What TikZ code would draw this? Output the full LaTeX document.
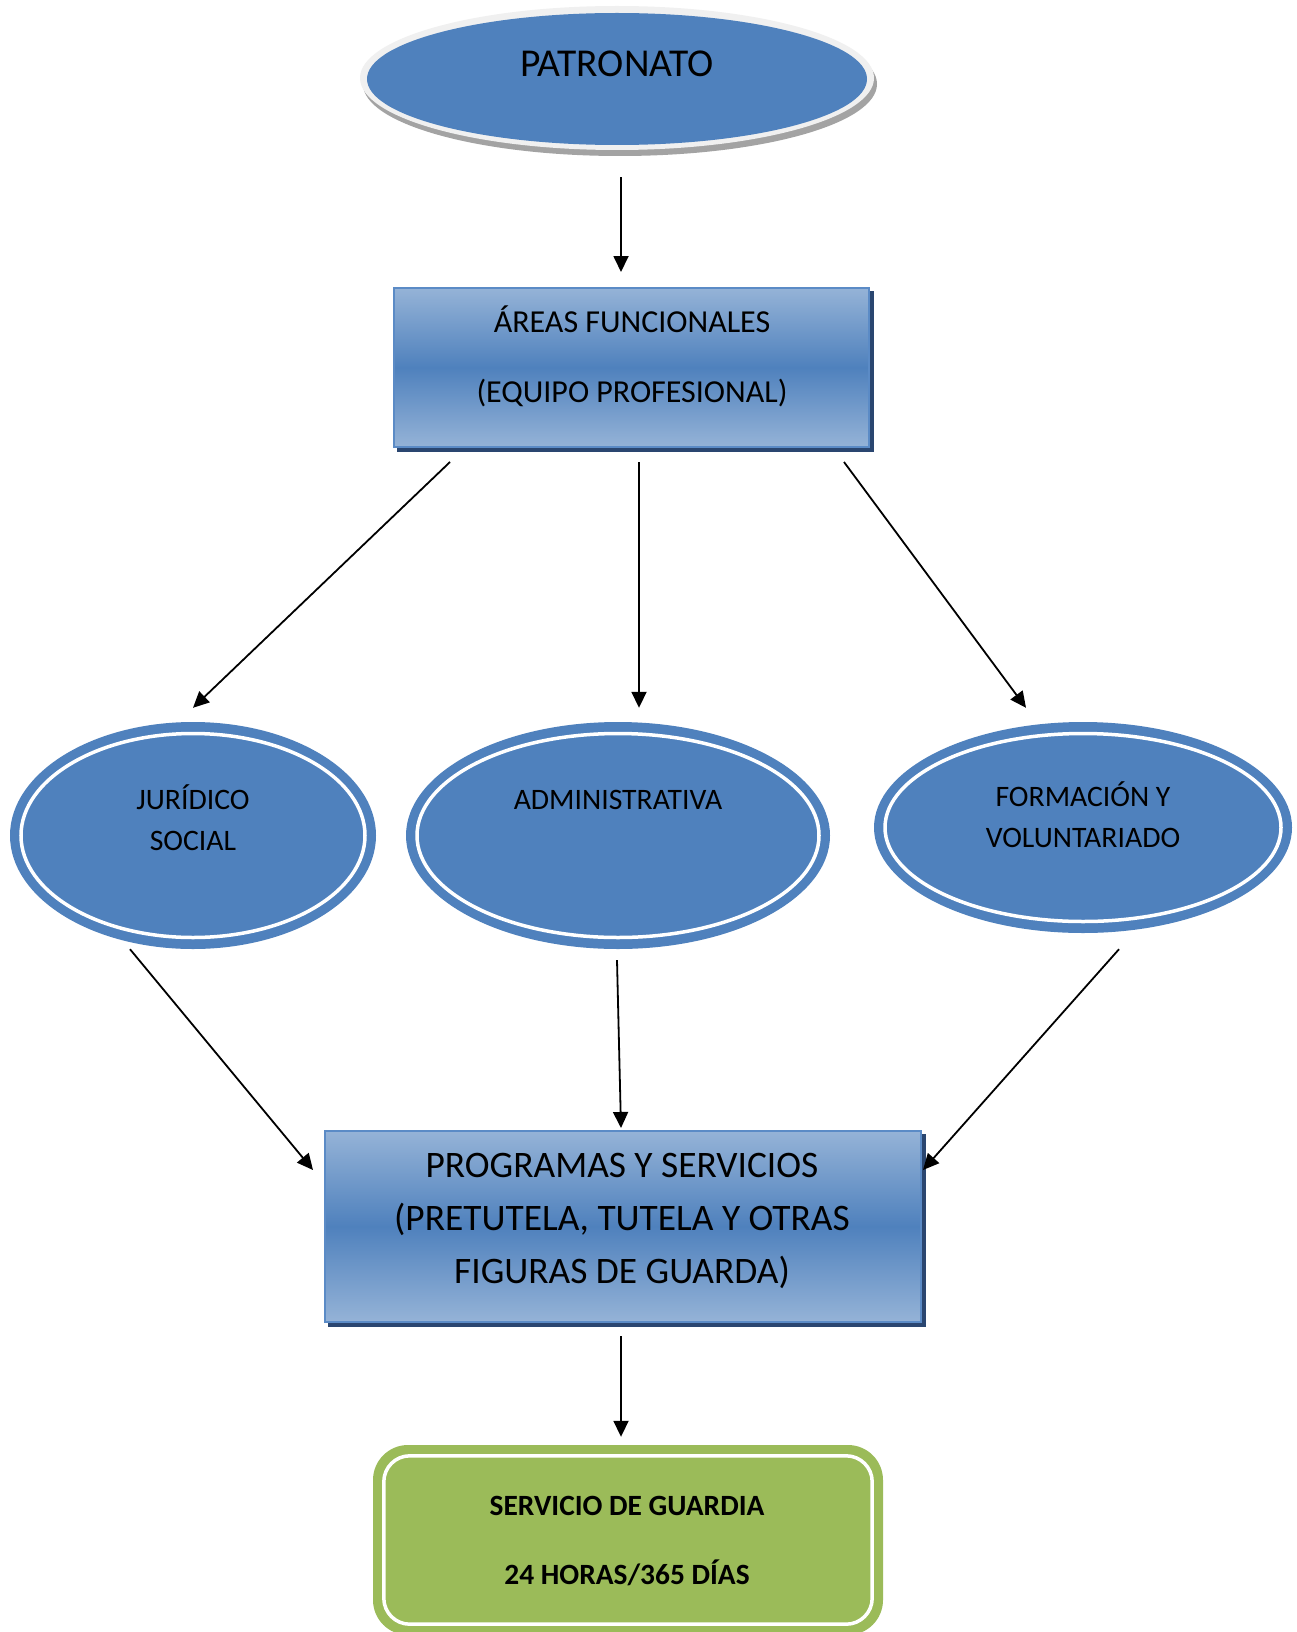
\documentclass[tikz,border=0pt]{standalone}
\usepackage{fontspec}
\setmainfont{Carlito}
\usetikzlibrary{shapes.geometric,arrows.meta,backgrounds}
\definecolor{ofblue}{HTML}{4F81BD}
\definecolor{oflight}{HTML}{95B3D7}
\definecolor{ofedge}{HTML}{5B8BC6}
\definecolor{ofshadow}{HTML}{2A4670}
\definecolor{ofgreen}{HTML}{9BBB59}
\definecolor{rimgray}{HTML}{F0F0F0}
\definecolor{bevelgray}{HTML}{A3A3A3}
\begin{document}
\begin{tikzpicture}[x=1pt,y=-1pt,
  arr/.style={line width=1.8pt, -{Triangle[length=16pt,width=15pt]}},
  oval/.style={ellipse, fill=ofblue, inner sep=0pt},
  gradbox/.style={rectangle, draw=ofedge, line width=2pt, top color=oflight,
    bottom color=oflight, middle color=ofblue, inner sep=0pt},
  greenbox/.style={rectangle, fill=ofgreen, rounded corners=35pt, inner sep=0pt},
  ring/.style={white, line width=3.5pt},
  txt/.style={inner sep=0pt, text=black, anchor=base},
  big/.style={font=\fontsize{39.5}{47}\selectfont},
  mid/.style={font=\fontsize{32}{38}\selectfont},
  prg/.style={font=\fontsize{37.4}{44}\selectfont},
  sml/.style={font=\fontsize{29.7}{35}\selectfont},
  bld/.style={font=\fontsize{29.4}{35}\selectfont\bfseries},
]
\useasboundingbox (0,0) rectangle (1296,1632);

% ---- shapes ----
\node[oval, minimum width=500pt, minimum height=132pt] (pat) at (617,79) {};
\node[txt, big] (pattxt) at (617,76.5) {PATRONATO};

\node[gradbox, minimum width=475pt, minimum height=159pt] (areas) at (631.5,367.5) {};
\node[txt, mid] (areas1) at (632,332) {ÁREAS FUNCIONALES};
\node[txt, mid] (areas2) at (632,402) {(EQUIPO PROFESIONAL)};

\node[oval, minimum width=366pt, minimum height=227pt] (jur) at (193,835.5) {};
\draw[ring] (jur.center) ellipse [x radius=172pt, y radius=102pt];
\node[txt, sml] (jur1) at (193,809.5) {JURÍDICO};
\node[txt, sml] (jur2) at (193,850.5) {SOCIAL};

\node[oval, minimum width=424pt, minimum height=227pt] (adm) at (618,835.5) {};
\draw[ring] (adm.center) ellipse [x radius=201pt, y radius=102pt];
\node[txt, sml] (adm1) at (618,809.5) {ADMINISTRATIVA};

\node[oval, minimum width=418pt, minimum height=211pt] (form) at (1083,827.5) {};
\draw[ring] (form.center) ellipse [x radius=198pt, y radius=94pt];
\node[txt, sml] (form1) at (1083,806.5) {FORMACIÓN Y};
\node[txt, sml] (form2) at (1083,847.5) {VOLUNTARIADO};

\node[gradbox, minimum width=596pt, minimum height=191pt] (prog) at (623,1226.5) {};
\node[txt, prg] (prog1) at (622,1177) {PROGRAMAS Y SERVICIOS};
\node[txt, prg] (prog2) at (622,1230) {(PRETUTELA, TUTELA Y OTRAS};
\node[txt, prg] (prog3) at (622,1283) {FIGURAS DE GUARDA)};

\node[greenbox, minimum width=510pt, minimum height=190pt] (serv) at (628,1540) {};
\draw[ring, rounded corners=26pt] ([shift={(11pt,-11pt)}]serv.north west)
  rectangle ([shift={(-11pt,11pt)}]serv.south east);
\node[txt, bld] (serv1) at (627,1515.5) {SERVICIO DE GUARDIA};
\node[txt, bld] (serv2) at (627,1584.5) {24 HORAS/365 DÍAS};

% ---- rims and shadows behind the shapes ----
\begin{scope}[on background layer]
  \fill[white] (0,0) rectangle (1296,1632);
  \fill[bevelgray] ([shift={(3pt,-5pt)}]pat.center) ellipse [x radius=257pt, y radius=72pt];
  \fill[rimgray] ([shift={(0pt,1pt)}]pat.center) ellipse [x radius=257pt, y radius=72pt];
  \fill[ofshadow] ([shift={(4pt,-4pt)}]areas.north west) rectangle ([shift={(4pt,-4pt)}]areas.south east);
  \fill[ofshadow] ([shift={(4pt,-4pt)}]prog.north west) rectangle ([shift={(4pt,-4pt)}]prog.south east);
\end{scope}

% ---- connectors ----
\draw[arr] ([xshift=4pt,yshift=-32pt]pat.south) -- ([xshift=-10.5pt,yshift=15pt]areas.north);
\draw[arr] ([xshift=57pt,yshift=-14pt]areas.south west) -- ([yshift=14pt]jur.north);
\draw[arr] ([xshift=7.5pt,yshift=-14pt]areas.south) -- ([xshift=21pt,yshift=14pt]adm.north);
\draw[arr] ([xshift=-26pt,yshift=-14pt]areas.south east) -- ([xshift=-57pt,yshift=14pt]form.north);
\draw[arr] ([xshift=-63pt]jur.south) -- ([xshift=-11pt,yshift=-40pt]prog.north west);
\draw[arr] ([xshift=-1pt,yshift=-11pt]adm.south) -- ([xshift=-2pt,yshift=2pt]prog.north);
\draw[arr] ([xshift=36pt,yshift=-16pt]form.south) -- ([xshift=1pt,yshift=-40pt]prog.north east);
\draw[arr] ([xshift=-2pt,yshift=-13pt]prog.south) -- ([xshift=-7pt,yshift=8pt]serv.north);
\end{tikzpicture}
\end{document}
